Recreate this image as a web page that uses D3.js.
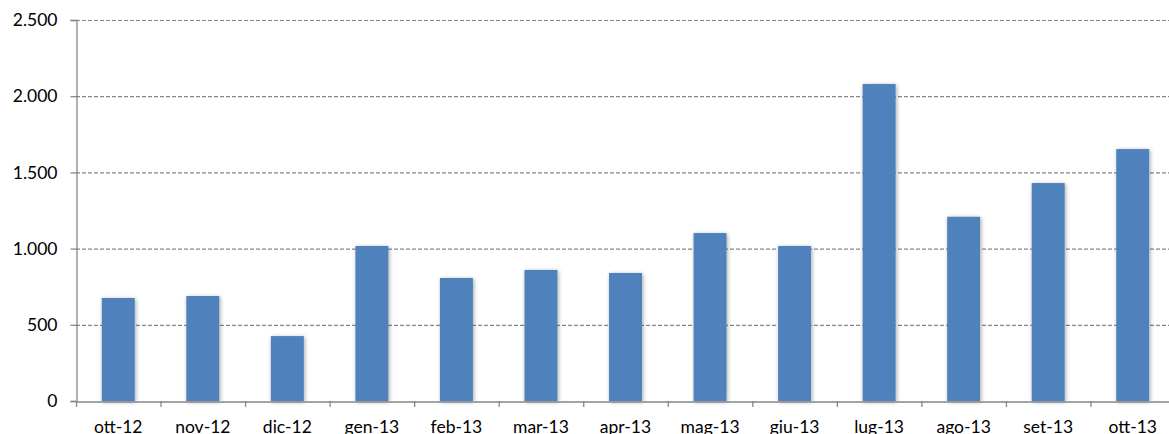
<!DOCTYPE html>
<html><head><meta charset="utf-8">
<script src="https://cdn.jsdelivr.net/npm/d3@7"></script>
<style>body{margin:0;background:#fff}svg{display:block}</style>
</head><body>
<script>
const categories = ["ott-12","nov-12","dic-12","gen-13","feb-13","mar-13","apr-13","mag-13","giu-13","lug-13","ago-13","set-13","ott-13"];
const values = [676, 689, 426, 1017, 807, 860, 840, 1102, 1017, 2080, 1209, 1430, 1653];
const yTicks = [0, 500, 1000, 1500, 2000, 2500];
const yTickLabels = ["0","500","1.000","1.500","2.000","2.500"];

const W = 1169, H = 434;
const m = {left: 76, top: 20, right: -6, bottom: 33};
const svg = d3.select("body").append("svg").attr("width", W).attr("height", H);
const defs = svg.append("defs");
const f = defs.append("filter").attr("id","sh").attr("x","-30%").attr("y","-10%").attr("width","160%").attr("height","120%");
f.append("feGaussianBlur").attr("in","SourceAlpha").attr("stdDeviation",2.2).attr("result","b");
f.append("feOffset").attr("in","b").attr("dx",1).attr("dy",1).attr("result","o");
f.append("feComponentTransfer").attr("in","o").attr("result","o2").append("feFuncA").attr("type","linear").attr("slope",0.35);
const mg = f.append("feMerge"); mg.append("feMergeNode").attr("in","o2"); mg.append("feMergeNode").attr("in","SourceGraphic");

const x = d3.scaleBand().domain(categories).range([m.left, W - m.right]).paddingInner(0.61).paddingOuter(0.305);
const y = d3.scaleLinear().domain([0, 2500]).range([H - m.bottom, m.top]);
const font = "Lato, 'Open Sans', sans-serif";
const fs = 17.5;

// gridlines
svg.append("g").selectAll("line").data(yTicks.slice(1)).join("line")
  .attr("x1", m.left).attr("x2", W).attr("y1", d => y(d)+0.5).attr("y2", d => y(d)+0.5)
  .attr("stroke", "#868686").attr("stroke-width", 1.2).attr("stroke-dasharray", "4,2");

// bars
svg.append("g").selectAll("rect").data(values).join("rect")
  .attr("x", (d,i) => x(categories[i])).attr("width", x.bandwidth())
  .attr("y", d => y(d)).attr("height", d => y(0) - y(d))
  .attr("fill", "#4F81BD").attr("filter", "url(#sh)");

// y axis
const ya = svg.append("g").attr("transform", `translate(${m.left+0.5},0)`)
  .call(d3.axisLeft(y).tickValues(yTicks).tickFormat((d,i) => yTickLabels[i]).tickSizeOuter(0).tickSize(6).tickPadding(13));
ya.select(".domain").attr("stroke", "#868686").attr("stroke-width", 1.3);
ya.selectAll(".tick line").attr("stroke", "#868686").attr("stroke-width", 1.3);
ya.selectAll("text").attr("font-family", font).attr("font-size", fs).attr("fill", "#000");

// x axis
const xa = svg.append("g").attr("transform", `translate(0,${y(0)+0.5})`)
  .call(d3.axisBottom(x).tickSize(0).tickPadding(19).tickSizeOuter(0));
xa.select(".domain").attr("stroke", "#868686").attr("stroke-width", 1.3);
xa.selectAll("text").attr("font-family", font).attr("font-size", fs).attr("fill", "#000");
// category boundary ticks
const bounds = d3.range(categories.length + 1).map(i => m.left + i * x.step());
svg.append("g").selectAll("line").data(bounds).join("line")
  .attr("x1", d => d + 0.5).attr("x2", d => d + 0.5).attr("y1", y(0)).attr("y2", y(0) + 6)
  .attr("stroke", "#868686").attr("stroke-width", 1.3);
</script>
</body></html>
